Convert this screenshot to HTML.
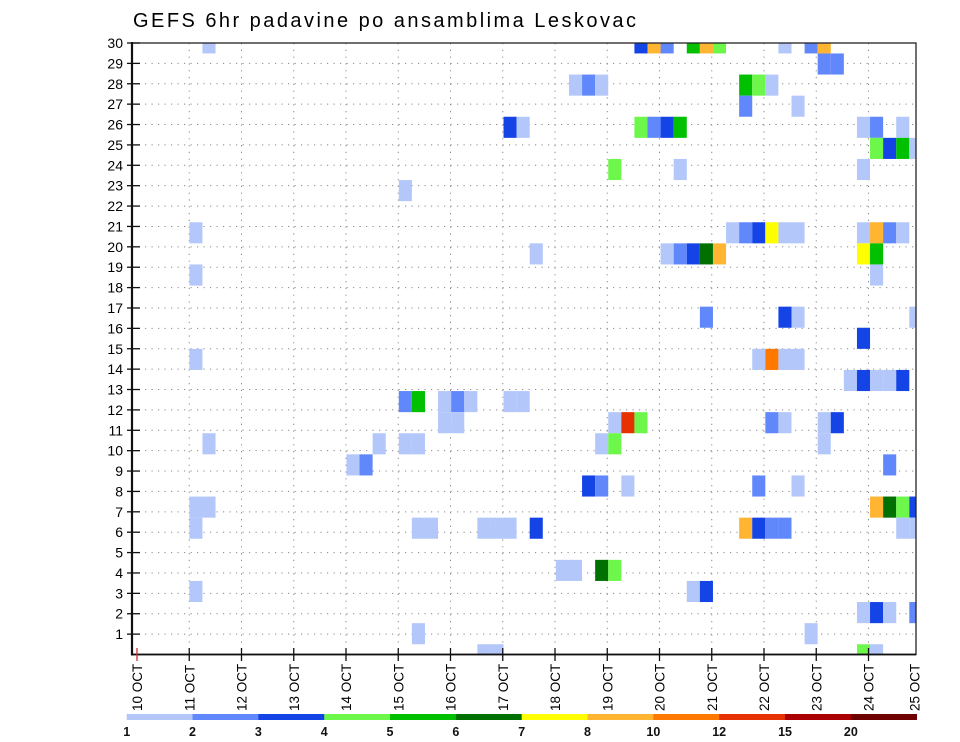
<!DOCTYPE html>
<html><head><meta charset="utf-8">
<style>
html,body{margin:0;padding:0;background:#fff;}
svg{display:block;font-family:"Liberation Sans","DejaVu Sans",sans-serif;}
</style></head>
<body>
<svg id="chart" width="960" height="742" viewBox="0 0 960 742" xmlns="http://www.w3.org/2000/svg">
<text x="133" y="27" font-size="20" fill="#000" textLength="503" lengthAdjust="spacing">GEFS 6hr padavine po ansamblima Leskovac</text>
<g id="grid"></g>
<g id="cells"></g>
<g id="axes"></g>
<g id="colorbar"></g>
</svg>
<script>
// ensemble member index of each cell
const members = [29,29,29,29,29,29,29,29,29,29, 28,28, 27,27,27,27,27,27, 26,26,
 25,25,25,25,25,25,25,25,25, 24,24,24,24, 23,23,23, 22,
 20,20,20,20,20,20,20,20,20,20,20, 19,19,19,19,19,19,19,19, 18,18,
 16,16,16,16, 15, 14,14,14,14,14, 13,13,13,13,13,
 12,12,12,12,12,12,12, 11,11,11,11,11,11,11,11,11,
 10,10,10,10,10,10,10, 9,9,9, 8,8,8,8,8, 7,7,7,7,7,7,
 6,6,6,6,6,6,6,6,6,6,6,6,6, 4,4,4,4, 3,3,3, 2,2,2,2, 1,1, 0,0,0,0];
// 6-hour step index from 10 OCT 00Z
const steps = [5,38,39,40,42,43,44,49,51,52, 52,53, 33,34,35,46,47,48, 46,50,
 28,29,38,39,40,41,55,56,58, 56,57,58,59, 36,41,55, 20,
 4,45,46,47,48,49,50,55,56,57,58, 30,40,41,42,43,44,55,56, 4,56,
 43,49,50,59, 55, 4,47,48,49,50, 54,55,56,57,58,
 20,21,23,24,25,28,29, 23,24,36,37,38,48,49,52,53,
 5,18,20,21,35,36,52, 16,17,57, 34,35,37,47,50, 4,5,56,57,58,59,
 4,21,22,26,27,28,30,46,47,48,49,58,59, 32,33,35,36, 4,42,43, 55,56,57,59, 21,51, 26,27,55,56];
// precipitation amount (mm / 6h)
const amounts = [1.5,3.5,9,2.5,5.5,9,4.5,1.5,2.5,9, 2.5,2.5, 1.5,2.5,1.5,5.5,4.5,1.5, 2.5,1.5,
 3.5,1.5,4.5,2.5,3.5,5.5,1.5,2.5,1.5, 4.5,3.5,5.5,1.5, 4.5,1.5,1.5, 1.5,
 1.5,1.5,2.5,3.5,7.5,1.5,1.5,1.5,9,2.5,1.5, 1.5,1.5,2.5,3.5,6.5,9,7.5,5.5, 1.5,1.5,
 2.5,3.5,1.5,1.5, 3.5, 1.5,1.5,11,1.5,1.5, 1.5,3.5,1.5,1.5,3.5,
 2.5,5.5,1.5,2.5,1.5,1.5,1.5, 1.5,1.5,1.5,13.5,4.5,2.5,1.5,1.5,3.5,
 1.5,1.5,1.5,1.5,1.5,4.5,1.5, 1.5,2.5,2.5, 3.5,2.5,1.5,2.5,1.5, 1.5,1.5,9,6.5,4.5,3.5,
 1.5,1.5,1.5,1.5,1.5,1.5,3.5,9,3.5,2.5,2.5,1.5,1.5, 1.5,1.5,6.5,4.5, 1.5,1.5,3.5, 1.5,3.5,1.5,2.5, 1.5,1.5, 1.5,1.5,4.5,1.5];
const levels = [1,2,3,4,5,6,7,8,10,12,15,20];
const levelLabels = ["1","2","3","4","5","6","7","8","10","12","15","20"];
const dayLabels = ["10","11","12","13","14","15","16","17","18","19","20","21","22","23","24","25"];
const yLabels = [1,2,3,4,5,6,7,8,9,10,11,12,13,14,15,16,17,18,19,20,21,22,23,24,25,26,27,28,29,30];
const palette = ["#b4c7fa","#6088fb","#1444e6","#6cf74a","#00c000","#007000","#ffff00","#ffb432","#ff7800","#e63200","#aa0000","#6e0000"];

const NS="http://www.w3.org/2000/svg";
const L=132, R=916, T=43, B=654.5;
const X0=137, STEP=13.09, DAY=52.25;
const CELLH=21.1, YSTEP=(B-T)/30;
function xStep(s){return X0+s*STEP;}
function xDay(i){return Math.min(X0+i*DAY,R-1);}
function yMember(m){return 654.8-CELLH*m;}
function yTick(n){return B-n*YSTEP;}
function colorFor(v){let k=0;for(let i=0;i<levels.length;i++){if(v>=levels[i])k=i;}return palette[k];}
function mk(tag,attrs,parent){const e=document.createElementNS(NS,tag);for(const k in attrs)e.setAttribute(k,attrs[k]);parent.appendChild(e);return e;}

const grid=document.getElementById('grid');
for(let n=1;n<=29;n++){
  const l=mk('line',{x1:L,x2:R,y1:yTick(n),y2:yTick(n),stroke:'#888','stroke-width':1,'stroke-dasharray':'1.2,5.3'},grid);
  
  
}
for(let i=1;i<15;i++){
  const l=mk('line',{x1:xDay(i),x2:xDay(i),y1:T,y2:B,stroke:'#888','stroke-width':1,'stroke-dasharray':'1.2,5.6'},grid);
  
  
}

const cells=document.getElementById('cells');
const cp=mk('clipPath',{id:'plotclip'},document.getElementById('chart'));
mk('rect',{x:L,y:T,width:R-L,height:B-T},cp);
cells.setAttribute('clip-path','url(#plotclip)');
for(let i=0;i<members.length;i++){
  const c=mk('rect',{x:xStep(steps[i]),y:yMember(members[i])-CELLH/2,width:STEP,height:CELLH,fill:colorFor(amounts[i])},cells);
  
  
}

const axes=document.getElementById('axes');
mk('rect',{x:L,y:T,width:R-L,height:B-T,fill:'none',stroke:'#222','stroke-width':1.3},axes);
mk('line',{x1:L,x2:L,y1:T-1,y2:B+1,stroke:'#111','stroke-width':2.2},axes);
mk('line',{x1:L,x2:R,y1:B,y2:B,stroke:'#111','stroke-width':1.8},axes);
yLabels.forEach((n)=>{
  const y=yTick(n);
  mk('line',{x1:127,x2:140,y1:y,y2:y,stroke:'#111','stroke-width':1.3},axes);
  const t=mk('text',{x:123,y:y+5,'font-size':14,'text-anchor':'end',fill:'#000'},axes);
  t.textContent=n;
  
  
});
dayLabels.forEach((d,i)=>{
  const x=(i===15)?914.5:X0+i*DAY;
  if(i<15) mk('line',{x1:x,x2:x,y1:648,y2:661,stroke:i===0?'#c33':'#111','stroke-width':1.3},axes);
  const t=mk('text',{x:0,y:0,'font-size':13.5,'text-anchor':'start',fill:'#000','xml:space':'preserve',transform:`translate(${x+5},711) rotate(-90)`},axes);
  t.textContent=d+'  OCT';
  
  
});

const cb=document.getElementById('colorbar');
const CB0=126.7, CBW=(916.7-126.7)/levels.length;
palette.forEach((col,i)=>{
  const r=mk('rect',{x:CB0+i*CBW,y:714,width:CBW+0.3,height:6,fill:col},cb);
  
  
  const t=mk('text',{x:CB0+i*CBW,y:736,'font-size':12.5,'font-weight':'bold','text-anchor':'middle',fill:'#111'},cb);
  t.textContent=levelLabels[i];
  
  
});
</script>
</body></html>
